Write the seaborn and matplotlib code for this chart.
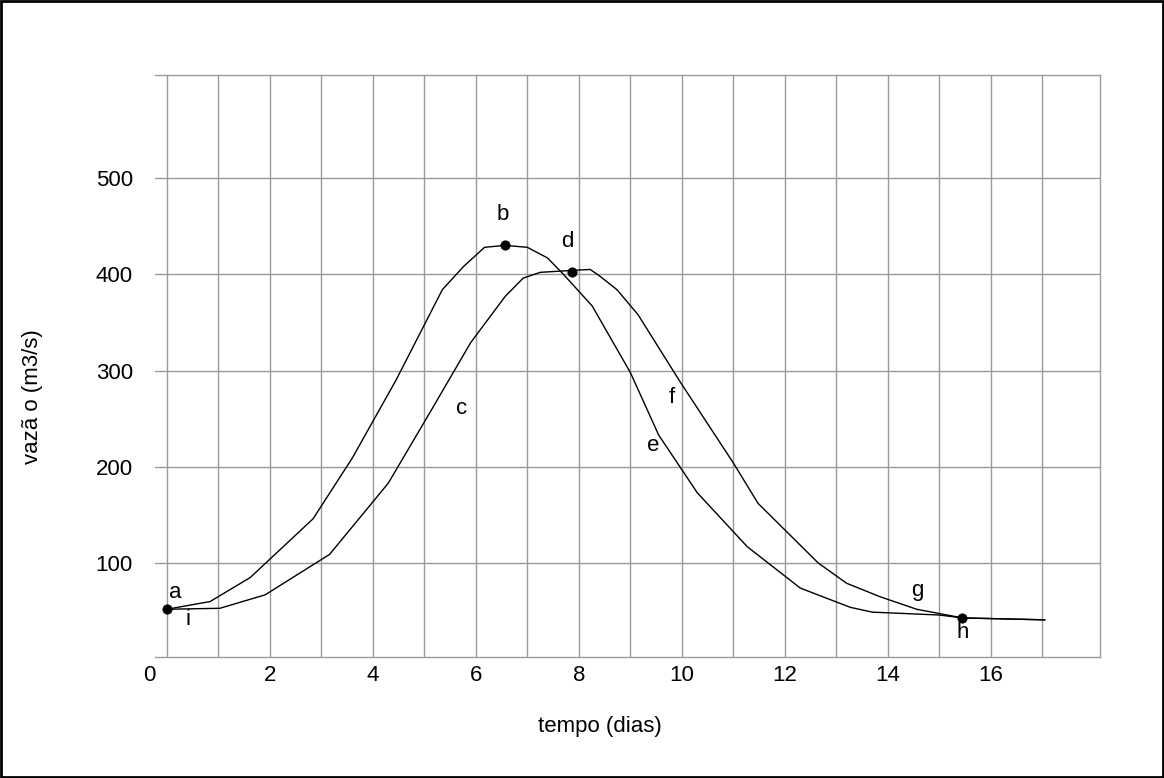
import matplotlib
matplotlib.use("Agg")
import matplotlib.pyplot as plt
import matplotlib.transforms as mtransforms
import seaborn as sns
import pandas as pd
from matplotlib.patches import Rectangle

# ---- data ----
inflow_t = [0, 0.84, 1.62, 2.84, 3.6, 4.45, 5.35, 5.76, 6.17, 6.57, 7.0, 7.39, 7.7,
            8.26, 9.0, 9.55, 10.3, 11.27, 12.3, 13.27, 13.7, 15.0, 15.45, 17.05]
inflow_q = [52, 60, 85, 146, 209, 290, 384, 408, 428, 430, 428, 417, 400,
            367, 298, 233, 173, 117, 74, 54, 49, 46, 43, 41]

outflow_t = [0, 1.03, 1.91, 3.16, 4.3, 5.17, 5.9, 6.57, 6.92, 7.25, 7.87, 8.22, 8.41,
             8.74, 9.15, 9.97, 11.0, 11.48, 12.65, 13.2, 13.85, 14.56, 15.45, 17.05]
outflow_q = [52, 53, 67, 109, 183, 262, 329, 377, 396, 402, 404, 405, 398,
             384, 358, 288, 204, 162, 100, 79, 65, 52, 43, 41]

# marked points
dot_t = [0, 6.57, 7.87, 15.45]
dot_q = [52, 430, 402, 43]

# letter annotations
letters = ["a", "b", "c", "d", "e", "f", "g", "h", "i"]
letter_t = [0.16, 6.53, 5.72, 7.78, 9.45, 9.81, 14.57, 15.45, 0.41]
letter_q = [69, 462, 261, 434, 222, 272, 72, 28, 41]

xticks = [0, 2, 4, 6, 8, 10, 12, 14, 16]
yticks = [100, 200, 300, 400, 500]

# ---- plotting ----
sns.set_style("white")
plt.rcParams["font.family"] = ["Liberation Sans", "DejaVu Sans"]
plt.rcParams["text.color"] = "black"
plt.rcParams["axes.labelcolor"] = "black"
plt.rcParams["xtick.color"] = "black"
plt.rcParams["ytick.color"] = "black"

fig = plt.figure(figsize=(11.64, 7.78), dpi=100)
ax = fig.add_axes([155 / 1164, 1 - 657 / 778, 945 / 1164, 582 / 778])

df_in = pd.DataFrame({"t": inflow_t, "q": inflow_q})
df_out = pd.DataFrame({"t": outflow_t, "q": outflow_q})
sns.lineplot(data=df_in, x="t", y="q", ax=ax, color="black", lw=1.0,
             sort=False, estimator=None, zorder=3)
sns.lineplot(data=df_out, x="t", y="q", ax=ax, color="black", lw=1.0,
             sort=False, estimator=None, zorder=3)
sns.scatterplot(x=dot_t, y=dot_q, ax=ax, color="black", s=45,
                edgecolor="black", zorder=4)

for lab, tx, qy in zip(letters, letter_t, letter_q):
    ax.text(tx, qy, lab, fontsize=16, ha="center", va="center", color="black")

ax.set_xlim(-0.23, 18.12)
ax.set_ylim(2.4, 607)
ax.set_xticks(xticks)
ax.set_xticks(range(0, 18), minor=True)
ax.set_yticks(yticks)
ax.set_xticklabels([str(v) for v in xticks], fontsize=16)
ax.set_yticklabels([str(v) for v in yticks], fontsize=16)
ax.tick_params(axis="both", which="both", length=0, labelcolor="black")
ax.tick_params(axis="x", pad=6)
ax.tick_params(axis="y", pad=16)

# the "0" label sits a little to the left in the reference
first = ax.get_xticklabels()[0]
first.set_transform(first.get_transform() +
                    mtransforms.ScaledTranslation(-0.18, 0, fig.dpi_scale_trans))

gc = "#9a9a9a"
ax.grid(True, which="both", axis="x", color=gc, lw=1.0)
ax.grid(True, which="major", axis="y", color=gc, lw=1.0)
ax.set_axisbelow(True)
for side in ["top", "right", "bottom"]:
    ax.spines[side].set_visible(True)
    ax.spines[side].set_color(gc)
    ax.spines[side].set_linewidth(1.0)
ax.spines["left"].set_visible(False)

ax.set_xlabel("tempo (dias)", fontsize=16, color="black")
ax.set_ylabel("vazã o (m3/s)", fontsize=16, color="black")
ax.xaxis.set_label_coords((600 - 155) / 945, (657 - 716) / 582)
ax.yaxis.set_label_coords((43 - 155) / 945, (657 - 397) / 582)

# outer frame
fig.patches.append(Rectangle((0.001, 0.001), 0.998, 0.998, transform=fig.transFigure,
                             fill=False, edgecolor="black", lw=2))

fig.savefig("out.png", dpi=100)
